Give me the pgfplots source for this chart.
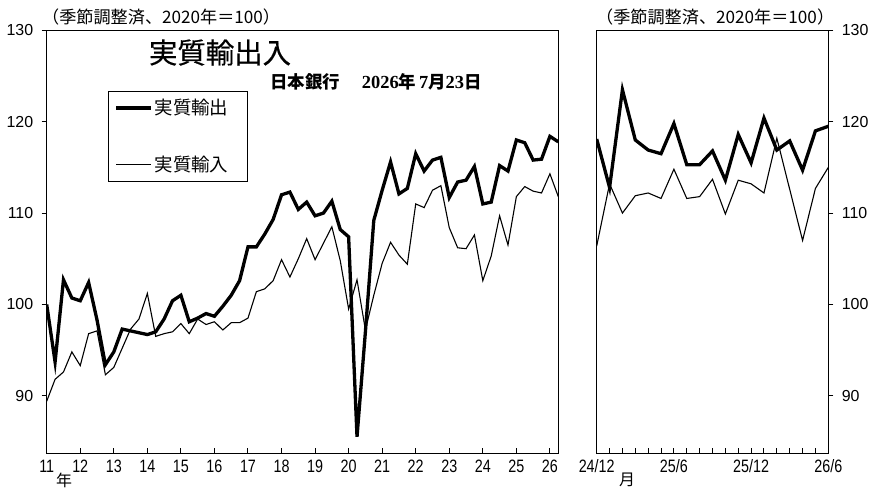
\documentclass[border=0pt]{standalone}
\usepackage{fontspec}
\usepackage{pgfplots}
\usepackage{pgfplotstable}
\pgfplotsset{compat=1.18}
\setmainfont{Liberation Sans}
\newfontfamily\jp{Noto Sans CJK JP}
\newfontfamily\jptitle{Noto Sans CJK JP}[FakeBold=0.5]
\newfontfamily\narrow{Liberation Sans}[FakeStretch=0.8]
\newfontfamily\serifrm{Liberation Serif}

\pgfplotstableread{
i ex im
0 100.0 89.4
1 93.7 91.8
2 102.7 92.6
3 100.7 94.8
4 100.4 93.3
5 102.4 96.8
6 98.3 97.1
7 93.4 92.3
8 94.8 93.1
9 97.3 95.2
10 97.1 97.3
11 96.9 98.4
12 96.7 101.2
13 97.0 96.5
14 98.4 96.8
15 100.4 97.0
16 101.0 97.9
17 98.1 96.8
18 98.5 98.4
19 99.0 97.8
20 98.7 98.1
21 99.8 97.2
22 101.0 98.0
23 102.6 98.0
24 106.3 98.5
25 106.3 101.4
26 107.7 101.7
27 109.3 102.6
28 112.0 104.9
29 112.3 103.0
30 110.4 105.0
31 111.2 107.2
32 109.7 104.9
33 110.0 106.7
34 111.3 108.5
35 108.2 104.8
36 107.4 99.5
37 85.5 102.7
38 97.0 97.2
39 109.2 101.0
40 112.5 104.5
41 115.6 106.8
42 112.1 105.4
43 112.7 104.4
44 116.5 111.0
45 114.6 110.6
46 115.8 112.5
47 116.1 113.0
48 111.7 108.4
49 113.4 106.2
50 113.6 106.1
51 115.1 107.6
52 111.0 102.6
53 111.2 105.3
54 115.2 109.7
55 114.6 106.5
56 118.0 111.8
57 117.7 112.9
58 115.8 112.4
59 115.9 112.2
60 118.4 114.3
61 117.8 111.8
}\quarterly

\pgfplotstableread{
i ex im
0 118.1 106.4
1 112.8 113.2
2 123.5 110.0
3 118.0 111.9
4 116.9 112.2
5 116.5 111.6
6 119.8 114.8
7 115.3 111.6
8 115.3 111.8
9 116.8 113.7
10 113.6 109.9
11 118.6 113.6
12 115.5 113.2
13 120.4 112.2
14 116.9 118.2
15 117.9 112.6
16 114.7 107.0
17 119.0 112.7
18 119.5 115.0
}\monthly

\begin{document}
\begin{tikzpicture}
\useasboundingbox (0bp,0bp) rectangle (884bp,494bp);

\pgfplotsset{
  common/.style={
    scale only axis,
    anchor=south west,
    height=422.9bp,
    ymin=83.7, ymax=130,
    ytick={90,100,110,120,130},
    axis line style={line width=1.2bp},
    tick style={black, line width=1bp},
    major tick length=5bp,
    xtick align=inside,
    ytick align=outside,
    xtick pos=left,
    /pgf/number format/assume math mode=true,
    xticklabel style={font=\narrow\fontsize{18}{18}\selectfont, yshift=-3bp},
    every axis plot/.append style={black},
  },
}

\begin{axis}[common,
  at={(46.7bp,40.7bp)},
  width=511.6bp,
  xmin=0, xmax=61,
  xtick={0,4,...,60},
  xticklabels={11,12,13,14,15,16,17,18,19,20,21,22,23,24,25,26},
  ytick pos=left,
  yticklabel style={font=\fontsize{16}{16}\selectfont, xshift=-5bp},
  legend style={at={(0.1198,0.8567)}, anchor=north west, draw=black, line width=0.8bp,
    fill=white, inner xsep=6bp, inner ysep=6bp, row sep=36bp,
    font=\jp\fontsize{18.5}{18.5}\selectfont, cells={anchor=west}},
  legend image code/.code={\draw[#1] (0bp,0bp) -- (35bp,0bp);},
]
\addplot[line width=3.3bp] table[x=i,y=ex] {\quarterly};
\addlegendentry{実質輸出\hspace{11bp}}
\addplot[line width=1.1bp] table[x=i,y=im] {\quarterly};
\addlegendentry{実質輸入\hspace{11bp}\rule[-7bp]{0pt}{1bp}}
\end{axis}

\begin{axis}[common,
  at={(596.7bp,40.7bp)},
  width=231.6bp,
  xmin=0, xmax=18,
  xtick={0,...,18},
  xticklabels={24/12,,,,,,25/6,,,,,,25/12,,,,,,26/6},
  ytick pos=right,
  yticklabel style={font=\fontsize{16}{16}\selectfont, xshift=5bp},
]
\addplot[line width=3.3bp] table[x=i,y=ex] {\monthly};
\addplot[line width=1.1bp] table[x=i,y=im] {\monthly};
\end{axis}

\node[font=\jptitle\fontsize{28.5}{28.5}\selectfont] at (220bp,441.5bp) {実質輸出入};
\node[anchor=west, inner sep=0pt, font=\bfseries] at (270bp,412bp)
  {{\jp\fontsize{17.5}{17.5}\selectfont 日本銀行}\hspace{22bp}{\serifrm\fontsize{18.5}{18.5}\selectfont 2026}{\jp\fontsize{17.5}{17.5}\selectfont 年} {\serifrm\fontsize{18.5}{18.5}\selectfont 7}{\jp\fontsize{17.5}{17.5}\selectfont 月}{\serifrm\fontsize{18.5}{18.5}\selectfont 23}{\jp\fontsize{17.5}{17.5}\selectfont 日}};
\node[anchor=west, inner sep=0pt, font=\jp\fontsize{17.2}{17.2}\selectfont] at (42bp,477bp) {（季節調整済、2020年＝100）};
\node[anchor=west, inner sep=0pt, font=\jp\fontsize{17.2}{17.2}\selectfont] at (596bp,477bp) {（季節調整済、2020年＝100）};
\node[font=\jp\fontsize{16}{16}\selectfont] at (64bp,13.5bp) {年};
\node[font=\jp\fontsize{16}{16}\selectfont] at (627bp,14bp) {月};
\end{tikzpicture}
\end{document}
